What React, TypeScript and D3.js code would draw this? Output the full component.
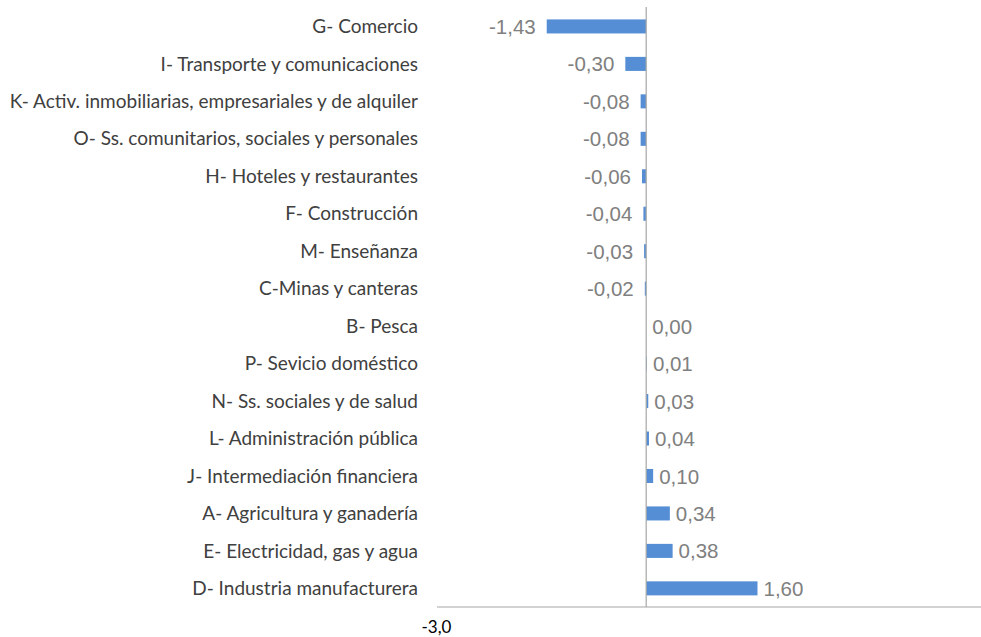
import React from "react";
import * as d3 from "d3";

const categories = [
  "G- Comercio",
  "I- Transporte y comunicaciones",
  "K- Activ. inmobiliarias, empresariales y de alquiler",
  "O- Ss. comunitarios, sociales y personales",
  "H- Hoteles y restaurantes",
  "F- Construcción",
  "M- Enseñanza",
  "C-Minas y canteras",
  "B- Pesca",
  "P- Sevicio doméstico",
  "N- Ss. sociales y de salud",
  "L- Administración pública",
  "J- Intermediación financiera",
  "A- Agricultura y ganadería",
  "E- Electricidad, gas y agua",
  "D- Industria manufacturera",
];
const values = [-1.43, -0.3, -0.08, -0.08, -0.06, -0.04, -0.03, -0.02, 0.0, 0.01, 0.03, 0.04, 0.1, 0.34, 0.38, 1.6];
const axisTickLabels = [{ value: -3, label: "-3,0" }];

const W = 981;
const H = 637;

export default function App() {
  const x = d3.scaleLinear().domain([-3, 5]).range([437.5, 994]);
  const y = d3.scaleBand<string>().domain(categories).range([7.8, 607]).paddingInner(0.625).paddingOuter(0.31);
  const fmt = (v: number) => v.toFixed(2).replace(".", ",");
  const x0 = x(0);
  return (
    <svg width={W} height={H} style={{ position: "absolute", left: 0, top: 0, background: "#fff" }}>
      {categories.map((c, i) => {
        const v = values[i];
        const yc = (y(c) as number) + y.bandwidth() / 2;
        const xa = x(Math.min(0, v));
        const xb = x(Math.max(0, v));
        return (
          <g key={c}>
            <rect x={xa} y={y(c)} width={Math.max(xb - xa, 0)} height={y.bandwidth()} fill="#558ED5" />
            <text
              x={v < 0 ? xa - 11 : xb + 6}
              y={yc}
              dy="0.37em"
              textAnchor={v < 0 ? "end" : "start"}
              fontFamily="Liberation Sans, Arial, sans-serif"
              fontSize={20.5}
              fill="#808080"
            >
              {fmt(v)}
            </text>
            <text
              x={418}
              y={yc}
              dy="0.35em"
              textAnchor="end"
              fontFamily="Lato, Carlito, Calibri, sans-serif"
              fontSize={19}
              fill="#404040"
            >
              {c}
            </text>
          </g>
        );
      })}
      <line x1={x0} x2={x0} y1={7} y2={607} stroke="#A6A6A6" strokeWidth={1.2} />
      <line x1={437} x2={W} y1={607} y2={607} stroke="#A6A6A6" strokeWidth={1.2} />
      {axisTickLabels.map((t) => (
        <text
          key={t.label}
          x={x(t.value) - 1}
          y={633}
          textAnchor="middle"
          fontFamily="Lato, Carlito, Calibri, sans-serif"
          fontSize={17}
          fill="#000"
        >
          {t.label}
        </text>
      ))}
    </svg>
  );
}
